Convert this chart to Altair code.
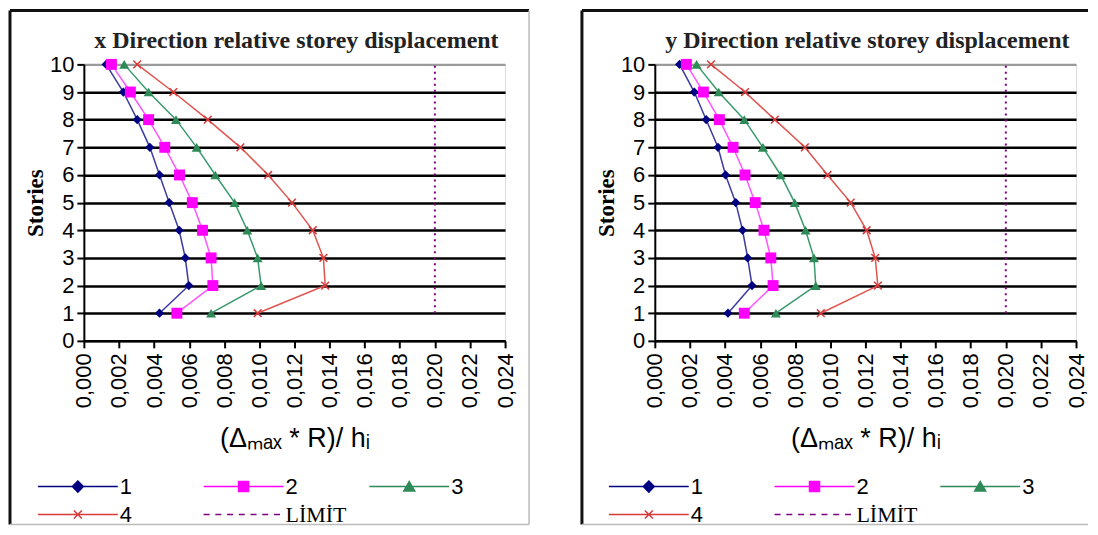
import altair as alt
import pandas as pd

# ---------------- data ----------------
stories = [10, 9, 8, 7, 6, 5, 4, 3, 2, 1]
series_names = ["1", "2", "3", "4"]
limit_name = "LİMİT"
limit_value = 0.020
limit_stories = [1, 2, 3, 4, 5, 6, 7, 8, 9, 10]

x_s1 = [0.00127, 0.00225, 0.00304, 0.00376, 0.00431, 0.00486, 0.00543, 0.00578, 0.00598, 0.00431]
x_s2 = [0.00157, 0.00265, 0.00369, 0.00461, 0.00545, 0.00618, 0.00676, 0.00725, 0.00735, 0.00530]
x_s3 = [0.00230, 0.00369, 0.00525, 0.00643, 0.00749, 0.00859, 0.00931, 0.00990, 0.01010, 0.00725]
x_s4 = [0.00304, 0.00510, 0.00706, 0.00892, 0.01050, 0.01186, 0.01304, 0.01365, 0.01375, 0.00990]

y_s1 = [0.00141, 0.00225, 0.00293, 0.00360, 0.00403, 0.00461, 0.00500, 0.00529, 0.00554, 0.00417]
y_s2 = [0.00180, 0.00277, 0.00368, 0.00446, 0.00514, 0.00572, 0.00622, 0.00661, 0.00674, 0.00510]
y_s3 = [0.00238, 0.00364, 0.00510, 0.00616, 0.00717, 0.00797, 0.00859, 0.00907, 0.00917, 0.00690]
y_s4 = [0.00320, 0.00514, 0.00684, 0.00855, 0.00984, 0.01116, 0.01207, 0.01256, 0.01271, 0.00946]

x_ticks = [0.000, 0.002, 0.004, 0.006, 0.008, 0.010, 0.012, 0.014, 0.016, 0.018, 0.020, 0.022, 0.024]
y_ticks = [0, 1, 2, 3, 4, 5, 6, 7, 8, 9, 10]

titles = ["x Direction relative storey displacement", "y Direction relative storey displacement"]
x_title = "(Δₘₐₓ * R)/ hᵢ"
y_title = "Stories"

# ---------------- style ----------------
marker_colors = ["#000080", "#FF00FF", "#2E8B57", "#D83A3A"]
line_colors = ["#3C3CA0", "#FF55FF", "#3A9A6E", "#E05550"]
limit_color = "#800080"
marker_shapes = ["diamond", "square", "triangle-up", "M-1,-1L1,1M-1,1L1,-1"]
marker_sizes = [85, 120, 100, 60]

W, H = 422, 277


def dash_path():
    segs = []
    x = -1.0
    while x < 15:
        segs.append("M%.2f,0H%.2f" % (x, min(x + 1.2, 15)))
        x += 2.35
    return "".join(segs)


legend_paths = [
    "M-1,0H15M7,-1.1L8.1,0L7,1.1L5.9,0Z",
    "M-1,0H15M6,-1H8V1H6Z",
    "M-1,0H15M7,-1L8.1,0.9L5.9,0.9Z",
    "M-1,0H15M6.2,-0.8L7.8,0.8M6.2,0.8L7.8,-0.8",
    dash_path(),
]

FONT = "Liberation Sans"
SERIF = "Liberation Serif"


def panel(idx, values, frame_left, frame_right, draw_right):
    rows = []
    for name, vals in zip(series_names, values):
        for s, v in zip(stories, vals):
            rows.append({"series": name, "story": s, "value": v})
    df = pd.DataFrame(rows)
    lim = pd.DataFrame({"story": limit_stories, "value": [limit_value] * len(limit_stories)})

    xenc = alt.X(
        "value:Q",
        scale=alt.Scale(domain=[0, 0.024], nice=False),
        axis=alt.Axis(
            values=x_ticks,
            labelExpr="replace(format(datum.value, '.3f'), '.', ',')",
            labelAngle=270,
            labelFont=FONT, labelFontSize=22, labelColor="black", labelPadding=5,
            tickSize=7, tickColor="black", tickWidth=2,
            domainColor="black", domainWidth=2,
            title=x_title, titleFont=FONT, titleFontSize=27, titleFontWeight="normal",
            titleColor="black", titlePadding=18,
            grid=False,
        ),
    )
    yenc = alt.Y(
        "story:Q",
        scale=alt.Scale(domain=[0, 10], nice=False),
        axis=alt.Axis(
            values=y_ticks,
            labelFont=FONT, labelFontSize=22, labelColor="black", labelPadding=3,
            tickSize=7, tickColor="black", tickWidth=2,
            domainColor="black", domainWidth=2,
            grid=True,
            gridColor={"condition": {"test": "datum.value === 10", "value": "#9a9a9a"}, "value": "black"},
            gridWidth=2.5,
            title=y_title, titleFont=SERIF, titleFontSize=23, titleFontWeight="bold",
            titleColor="black", titlePadding=2,
        ),
    )

    layers = []
    # frame
    fdf = pd.DataFrame({"a": [0]})
    layers.append(alt.Chart(fdf).mark_rule(color="#111", strokeWidth=3).encode(
        x=alt.value(frame_left), y=alt.value(-54), y2=alt.value(461)))
    layers.append(alt.Chart(fdf).mark_rule(color="#111", strokeWidth=3).encode(
        x=alt.value(frame_left), x2=alt.value(frame_right), y=alt.value(-54)))
    layers.append(alt.Chart(fdf).mark_rule(color="#bbbbbb", strokeWidth=1.5).encode(
        x=alt.value(frame_left), x2=alt.value(frame_right), y=alt.value(461)))
    if draw_right:
        layers.append(alt.Chart(fdf).mark_rule(color="#bbbbbb", strokeWidth=1.5).encode(
            x=alt.value(frame_right), y=alt.value(-54), y2=alt.value(461)))

    # title
    layers.append(alt.Chart(pd.DataFrame({"t": [titles[idx]]})).mark_text(
        font=SERIF, fontSize=24, fontWeight="bold", color="#222", align="center", baseline="middle"
    ).encode(text="t:N", x=alt.value(W / 2 + 2), y=alt.value(-23)))

    # limit line
    layers.append(alt.Chart(lim).mark_line(color=limit_color, strokeWidth=2, strokeDash=[2, 4]).encode(
        x=xenc, y=yenc, order="story:Q"))

    # series lines + markers
    for i, name in enumerate(series_names):
        sub = alt.Chart(df).transform_filter(alt.datum.series == name)
        layers.append(sub.mark_line(color=line_colors[i], strokeWidth=1.5).encode(
            x=xenc, y=yenc, order="story:Q"))
        if i == 3:
            layers.append(sub.mark_point(shape=marker_shapes[i], filled=False, size=marker_sizes[i],
                                         color=marker_colors[i], strokeWidth=1.5, opacity=1).encode(x=xenc, y=yenc))
        else:
            layers.append(sub.mark_point(shape=marker_shapes[i], filled=True, size=marker_sizes[i],
                                         color=marker_colors[i], strokeWidth=1, opacity=1).encode(x=xenc, y=yenc))

    # legend carrier (no visible marks)
    ldom = series_names + [limit_name]
    lcol = marker_colors + [limit_color]
    leg = alt.Legend(
        orient="none", legendX=-52, legendY=412, direction="horizontal", columns=3,
        title=None, symbolSize=100, symbolStrokeWidth=1.5,
        labelFont=alt.ExprRef("datum.label === 'LİMİT' ? 'Liberation Serif' : 'Liberation Sans'"),
        labelFontSize=22, labelColor="black", labelOffset=66,
        columnPadding=16, rowPadding=6, gridAlign="all", padding=0,
    )
    ldf = pd.DataFrame({"series": ldom, "value": [0.0] * 5, "story": [0] * 5})
    layers.append(alt.Chart(ldf).transform_filter("false").mark_point(filled=True, opacity=1).encode(
        x=xenc, y=yenc,
        shape=alt.Shape("series:N", scale=alt.Scale(domain=ldom, range=legend_paths), legend=leg),
        fill=alt.Fill("series:N", scale=alt.Scale(domain=ldom, range=lcol), legend=leg),
        stroke=alt.Stroke("series:N", scale=alt.Scale(domain=ldom, range=lcol), legend=leg),
    ))

    return alt.layer(*layers).properties(width=W, height=H)


left = panel(0, [x_s1, x_s2, x_s3, x_s4], -74, 446, True)
right = panel(1, [y_s1, y_s2, y_s3, y_s4], -73, 434, False)

chart = alt.hconcat(left, right, spacing=49).resolve_scale(
    shape="independent", fill="independent", stroke="independent"
).resolve_legend(
    shape="independent", fill="independent", stroke="independent"
).properties(padding=0).configure_view(
    stroke="#a0a0a0", strokeWidth=1
).configure(background="white")

chart.save("out.html", embed_options={"renderer": "svg", "actions": False})
